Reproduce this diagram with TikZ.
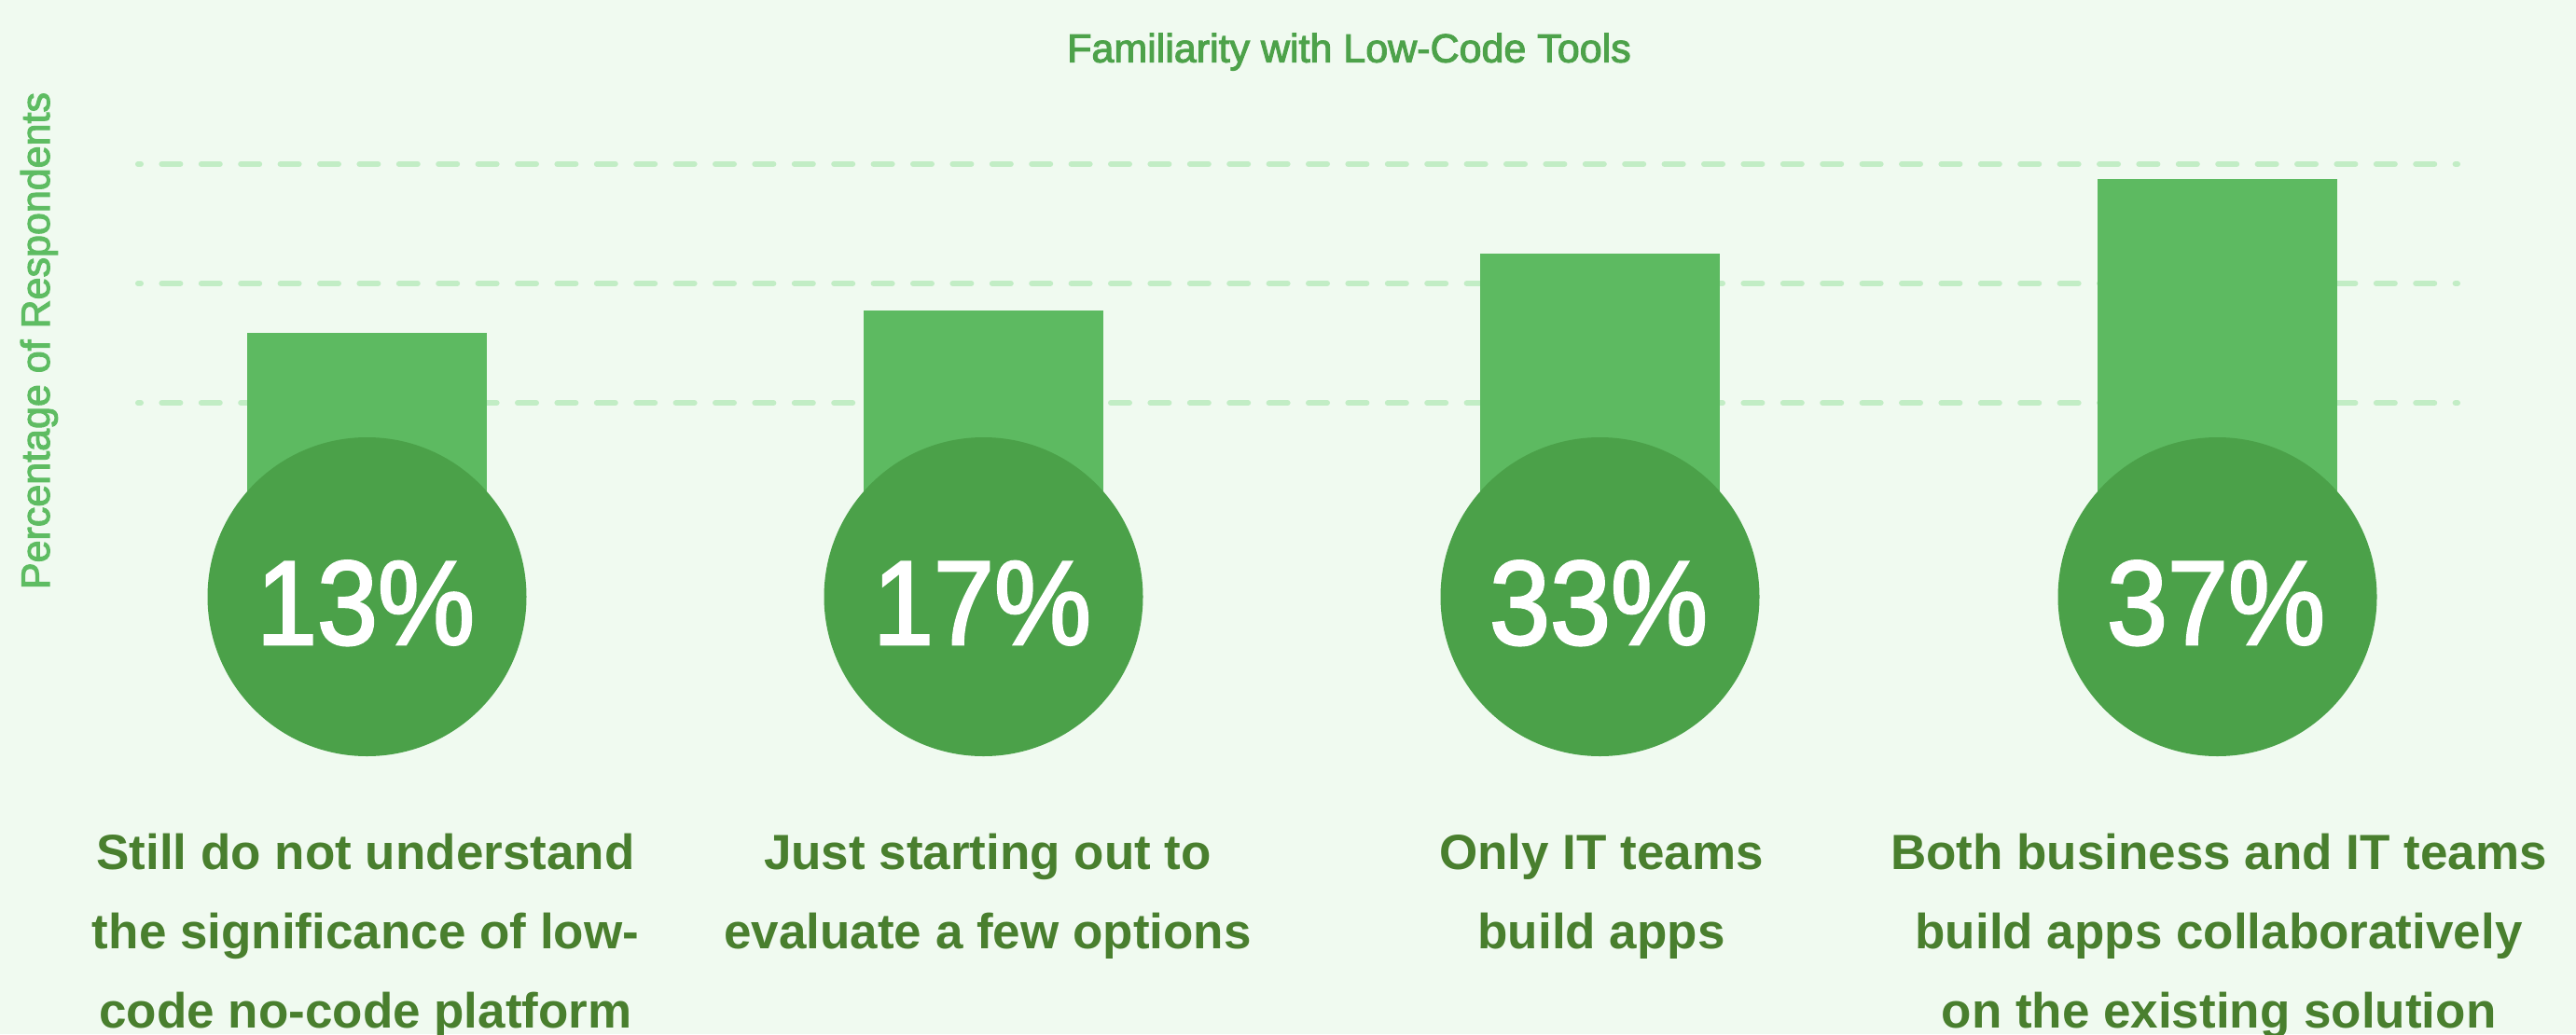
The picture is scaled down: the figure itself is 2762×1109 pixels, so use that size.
\documentclass[tikz,border=0pt]{standalone}
\usepackage{fontspec}
\setmainfont{Liberation Sans}
\newfontfamily\pctfont[FakeStretch=0.91,FakeBold=2]{Liberation Sans}
\newfontfamily\medfont[FakeBold=2.5]{Liberation Sans}
\definecolor{bgc}{HTML}{F0FAF0}
\definecolor{barc}{HTML}{5DBA61}
\definecolor{circc}{HTML}{4BA149}
\definecolor{gridc}{HTML}{C2EDC5}
\definecolor{titlec}{HTML}{4DA24A}
\definecolor{axisc}{HTML}{5EBC62}
\definecolor{labc}{HTML}{497F2E}
\tikzset{
  gridline/.style={draw=gridc, line width=6pt, line cap=round, dash pattern=on 20pt off 22.4pt, dash phase=17pt},
  barbox/.style={fill=barc, draw=none},
  pctcircle/.style={circle, fill=circc, draw=none, minimum size=342pt, inner sep=0pt},
  pcttext/.style={text=white, inner sep=0pt, anchor=base, font=\pctfont\fontsize{128.5}{130}\selectfont},
  catlabel/.style={text=labc, inner sep=0pt, anchor=north, align=center, font=\bfseries\fontsize{53}{85}\selectfont},
}
\begin{document}
\begin{tikzpicture}[x=1pt,y=-1pt]
\path[use as bounding box, fill=bgc] (0,0) rectangle (2762,1109);
% grid
\foreach \gy in {176,304,432} {
  \draw[gridline] (148,\gy) -- (2635,\gy);
}
% title and axis label
\node[text=titlec, inner sep=0pt, anchor=base, font=\medfont\fontsize{43}{50}\selectfont] (title) at (1446.5,66.7) {Familiarity with Low-Code Tools};
\node[text=axisc, inner sep=0pt, anchor=base, rotate=90, font=\medfont\fontsize{43}{50}\selectfont] (ylabel) at (53,365.5) {Percentage of Respondents};
% bars
\fill[barc] (265,357) rectangle (522,640);
\fill[barc] (926,333) rectangle (1183,640);
\fill[barc] (1587,272) rectangle (1844,640);
\fill[barc] (2249,192) rectangle (2506,640);
% circles
\node[pctcircle] (c1) at (393.5,640) {};
\node[pctcircle] (c2) at (1054.5,640) {};
\node[pctcircle] (c3) at (1715.5,640) {};
\node[pctcircle] (c4) at (2377.5,640) {};
\node[pcttext] (p1) at (392,691) {13\%};
\node[pcttext] (p2) at (1053,691) {17\%};
\node[pcttext] (p3) at (1714,691) {33\%};
\node[pcttext] (p4) at (2376,691) {37\%};
% labels
\node[catlabel] (l1) at (392,894.3) {Still do not understand\\the significance of low-\\code no-code platform};
\node[catlabel] (l2) at (1059,894.3) {Just starting out to\\evaluate a few options};
\node[catlabel] (l3) at (1717,894.3) {Only IT teams\\build apps};
\node[catlabel] (l4) at (2379,894.3) {Both business and IT teams\\build apps collaboratively\\on the existing solution};
\end{tikzpicture}
\end{document}
